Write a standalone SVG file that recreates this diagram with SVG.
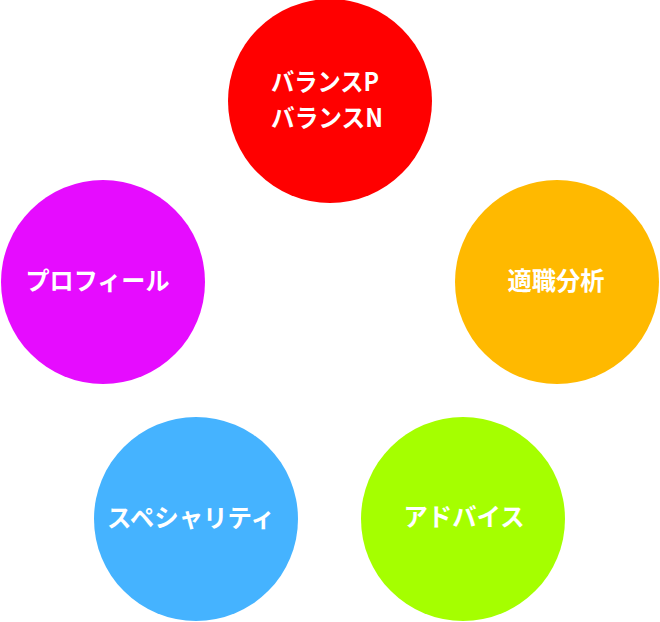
<svg xmlns="http://www.w3.org/2000/svg" width="660" height="622" viewBox="0 0 660 622">
<style>
.lbl{font-family:"Noto Sans CJK JP","Noto Sans",sans-serif;font-weight:bold;font-size:25px;fill:#FFFFFF}
</style>
<rect width="660" height="622" fill="#FFFFFF"/>
<g id="connectors"/>
<g id="balance">
<circle cx="330" cy="101" r="102" fill="#FF0000"/>
<text class="lbl" x="271" y="91" textLength="108" lengthAdjust="spacingAndGlyphs">バランスP</text>
<text class="lbl" x="271" y="126.5" textLength="112" lengthAdjust="spacingAndGlyphs">バランスN</text>
</g>
<g id="tekishoku">
<circle cx="557" cy="282" r="102" fill="#FFB900"/>
<text class="lbl" x="556" y="290" text-anchor="middle" textLength="97" lengthAdjust="spacingAndGlyphs">適職分析</text>
</g>
<g id="advice">
<circle cx="463" cy="519" r="102" fill="#A5FF00"/>
<text class="lbl" x="464" y="526" text-anchor="middle" textLength="121" lengthAdjust="spacingAndGlyphs">アドバイス</text>
</g>
<g id="speciality">
<circle cx="196" cy="519" r="102" fill="#45B3FF"/>
<text class="lbl" x="191" y="526.5" text-anchor="middle" textLength="168" lengthAdjust="spacingAndGlyphs">スペシャリティ</text>
</g>
<g id="profile">
<circle cx="103" cy="282" r="102" fill="#E60CFF"/>
<text class="lbl" x="97.5" y="290" text-anchor="middle" textLength="144" lengthAdjust="spacingAndGlyphs">プロフィール</text>
</g>
</svg>
